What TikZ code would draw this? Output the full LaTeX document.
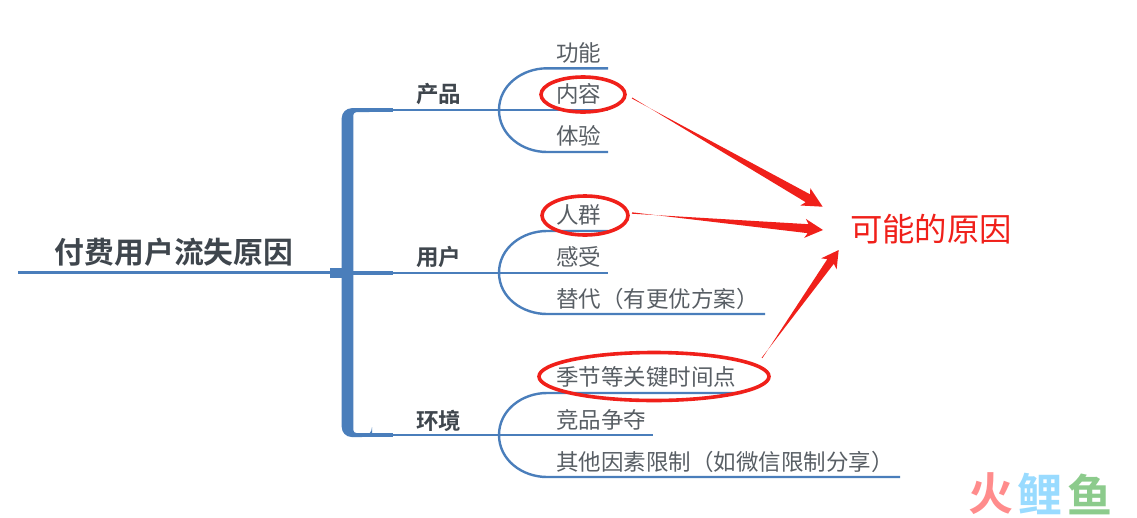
\documentclass[tikz,border=0pt]{standalone}
\usepackage{fontspec}
\setmainfont{Noto Sans CJK SC}
\newfontfamily\boldcjk{Noto Sans CJK SC Bold}
\usetikzlibrary{calc,shapes.geometric}
\definecolor{stemblue}{HTML}{4A7EBB}
\definecolor{darktext}{HTML}{3F464D}
\definecolor{leaftext}{HTML}{585E64}
\definecolor{markred}{HTML}{F0201A}
\tikzset{
  leaf/.style={anchor=west,inner sep=0,text=leaftext,font=\fontsize{22.5}{22.5}\selectfont},
  topic/.style={inner sep=0,text=darktext,font=\fontsize{22.5}{22.5}\boldcjk},
  wire/.style={draw=stemblue,line width=2.4},
  ring/.style={draw=markred,line width=3.6,ellipse,inner sep=0},
  wm/.style={inner sep=0,font=\fontsize{45}{45}\boldcjk}
}
% wedge arrow: from, to, head length, barb half width, tail half width, neck half width
\newcommand{\wedgearrow}[6]{
  \coordinate (nk) at ($(#2)!#3pt!(#1)$);
  \coordinate (bb) at ($(#2)!#3pt+3pt!(#1)$);
  \fill[markred] ($(#1)!#5pt!90:(#2)$) -- ($(nk)!#6pt!-90:(#2)$) -- ($(bb)!#4pt!-90:(#2)$) -- (#2) -- ($(bb)!#4pt!90:(#2)$) -- ($(nk)!#6pt!90:(#2)$) -- ($(#1)!#5pt!-90:(#2)$) -- cycle;
}
\begin{document}
\begin{tikzpicture}[x=1pt,y=-1pt]
\useasboundingbox (0,0) rectangle (1137,517);
% spine
\coordinate (rootend) at (18,272.7);
\coordinate (spine) at (345,272.7);
\coordinate (sqa) at (330,267.5);
\coordinate (sqb) at (345,278);
\draw[wire,line width=3](rootend) -- (spine);
\fill[stemblue](sqa) rectangle (sqb);
\fill[stemblue,rounded corners=10] (372,108.2) -- (341.7,108.2) -- (341.7,437) -- (372,437) [rounded corners=3] -- (372,433) -- (353.3,433) -- (353.3,112.2) -- (372,112.2) -- cycle;
\node[inner sep=0,text=darktext,font=\fontsize{29.8}{29.8}\boldcjk](root) at (174,252){付费用户流失原因};
% forks
\coordinate (fa) at (499,110);
\coordinate (fb) at (499,272.7);
\coordinate (fc) at (499,435);
\coordinate (sa) at (360,110);
\coordinate (sb) at (345,272.7);
\coordinate (sc) at (360,435);
\draw[wire,line width=4](sa) -- (393,110);
\draw[wire,line width=4](sb) -- (393,272.7);
\draw[wire,line width=4](sc) -- (393,435);
\draw[wire](sa) -- (fa);
\draw[wire](sb) -- (fb);
\draw[wire](sc) -- (fc);
\node[topic](cp) at (438.5,94){产品};
\node[topic](yh) at (438.5,257){用户};
\node[topic](hj) at (438.5,421){环境};
% leaf lines
\coordinate (la) at (608,68.3);
\coordinate (lb) at (608,110);
\coordinate (lc) at (608,152);
\coordinate (ld) at (608,231);
\coordinate (le) at (608,272.7);
\coordinate (lf) at (765,314);
\coordinate (lg) at (742,393);
\coordinate (lh) at (653,435);
\coordinate (li) at (900,477);
\draw[wire](fa) to [out=90,in=180] (547,68.3) -- (la);
\draw[wire](fa) -- (lb);
\draw[wire](fa) to [out=-90,in=180] (547,152) -- (lc);
\draw[wire](fb) to [out=90,in=180] (547,231) -- (ld);
\draw[wire](fb) -- (le);
\draw[wire](fb) to [out=-90,in=180] (547,314) -- (lf);
\draw[wire](fc) to [out=90,in=180] (547,393) -- (lg);
\draw[wire](fc) -- (lh);
\draw[wire](fc) to [out=-90,in=180] (547,477) -- (li);
% rings
\node[ring,minimum width=84,minimum height=35](rnr) at (583,94.5){};
\node[ring,minimum width=86,minimum height=39](rrq) at (585,215.5){};
\node[ring,minimum width=230,minimum height=48](rjj) at (654,376.5){};
% leaves
\node[leaf](gn) at (556,53){功能};
\node[leaf](nr) at (556,94){内容};
\node[leaf](ty) at (556,136){体验};
\node[leaf](rq) at (556,215){人群};
\node[leaf](gs) at (556,257){感受};
\node[leaf](td) at (556,299){替代（有更优方案）};
\node[leaf](jj) at (556,377){季节等关键时间点};
\node[leaf](jp) at (556,420){竞品争夺};
\node[leaf](qt) at (556,462){其他因素限制（如微信限制分享）};
% cause
\node[inner sep=0,text=markred,font=\fontsize{32.4}{32.4}\selectfont](cause) at (931,229){可能的原因};
\coordinate (ta) at (632,98);
\coordinate (tb) at (632,213);
\coordinate (tc) at (762,358);
\coordinate (ha) at (822.7,206.7);
\coordinate (hb) at (823,230);
\coordinate (hc) at (838.7,250);
\wedgearrow{ta}{ha}{17}{10}{0.5}{4.5}
\wedgearrow{tb}{hb}{15}{9.5}{0.7}{4.5}
\wedgearrow{tc}{hc}{14}{9.5}{0.4}{4}
% watermark
\node[wm,text=red!45](wa) at (991,494){火};
\node[wm,text=blue!35!cyan!40](wb) at (1040,494){鲤};
\node[wm,text=green!55!black!45](wc) at (1090,494){鱼};
\end{tikzpicture}
\end{document}
